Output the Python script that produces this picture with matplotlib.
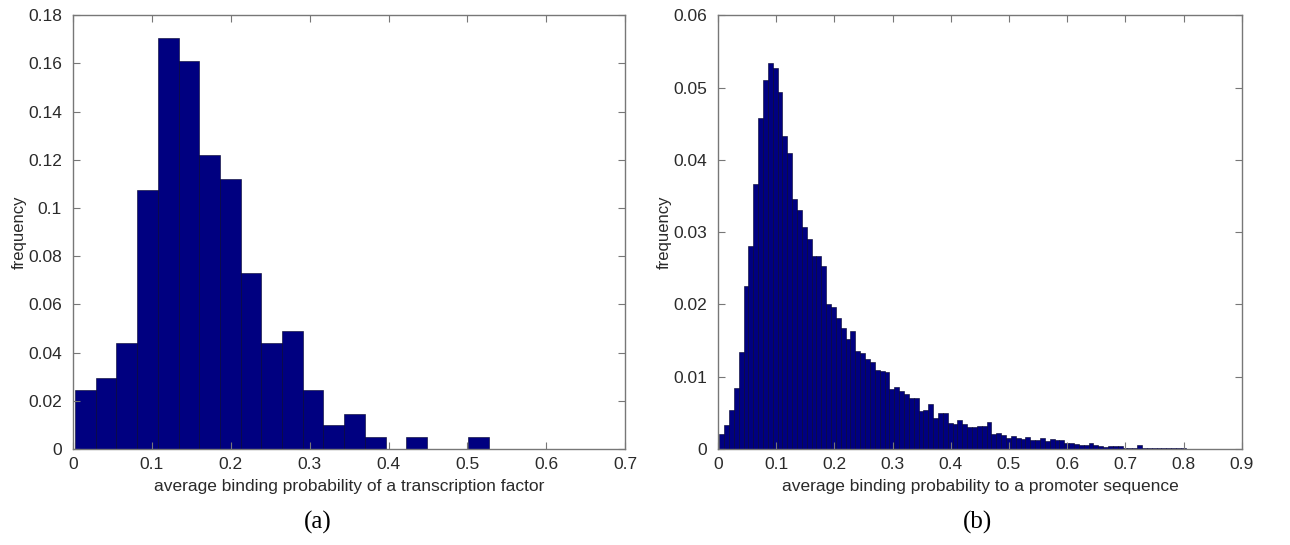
import numpy as np
import matplotlib.pyplot as plt
from matplotlib.ticker import FuncFormatter

# (a) transcription factors: 20 bins
tf_start = 0.0025
tf_width = 0.02625
tf_freq = [0.0244, 0.0293, 0.0439, 0.1073, 0.1707, 0.1610, 0.1220, 0.1122,
           0.0732, 0.0439, 0.0488, 0.0244, 0.0098, 0.0146, 0.0049, 0.0,
           0.0049, 0.0, 0.0, 0.0049]

# (b) promoter sequences
pr_start = 0.0022
pr_width = 0.00835
pr_freq = [0.0021, 0.0033, 0.0054, 0.0085, 0.0134, 0.0225, 0.0281, 0.0367,
           0.0458, 0.0511, 0.0534, 0.0527, 0.0494, 0.0433, 0.0409, 0.0346,
           0.0330, 0.0307, 0.0290, 0.0267, 0.0267, 0.0253, 0.0201, 0.0196,
           0.0181, 0.0168, 0.0152, 0.0163, 0.0136, 0.0133, 0.0125, 0.0120,
           0.0109, 0.0108, 0.0107, 0.0083, 0.0086, 0.0080, 0.0076, 0.0070,
           0.0071, 0.0052, 0.0054, 0.0063, 0.0043, 0.0050, 0.0050, 0.0036,
           0.0035, 0.0040, 0.0034, 0.0031, 0.0031, 0.0032, 0.0032, 0.0038,
           0.0021, 0.0022, 0.0020, 0.0016, 0.0018, 0.0016, 0.0014, 0.0017,
           0.0012, 0.0012, 0.0016, 0.0011, 0.0014, 0.0012, 0.0013, 0.0009,
           0.0008, 0.0007, 0.0006, 0.0006, 0.0008, 0.0006, 0.0004, 0.0003,
           0.0004, 0.0004, 0.0004, 0.0002, 0.0001, 0.0001, 0.0005, 0.0002,
           0.0002, 0.0002, 0.0001, 0.0002, 0.0001, 0.0001, 0.0001, 0.0001]

tf_xticks = np.arange(0, 0.71, 0.1)
tf_yticks = np.arange(0, 0.181, 0.02)
pr_xticks = np.arange(0, 0.91, 0.1)
pr_yticks = np.arange(0, 0.061, 0.01)

plt.rcParams['font.family'] = ['Liberation Sans', 'DejaVu Sans']
BAR = '#000080'
EDGE = '#00002a'
GREY = '#777777'
TXT = '#2a2a2a'
FS = 12.5


def draw_hist(ax, start, width, freq, xticks, yticks, xlabel):
    left = start + width * np.arange(len(freq))
    ax.bar(left, freq, width=width, align='edge', color=BAR,
           edgecolor=EDGE, linewidth=0.4)
    ax.set_xlim(xticks[0], xticks[-1])
    ax.set_ylim(yticks[0], yticks[-1])
    ax.set_xticks(xticks)
    ax.set_yticks(yticks)
    fmt = FuncFormatter(lambda v, p: '{:g}'.format(round(v, 3)))
    ax.xaxis.set_major_formatter(fmt)
    ax.yaxis.set_major_formatter(fmt)
    ax.tick_params(direction='in', top=True, right=True, length=5,
                   width=0.8, color=GREY, labelsize=FS, labelcolor=TXT)
    ax.tick_params(axis='y', pad=8)
    ax.tick_params(axis='x', pad=6)
    for s in ax.spines.values():
        s.set_color(GREY)
        s.set_linewidth(1.0)
    ax.set_xlabel(xlabel, fontsize=FS, color=TXT, labelpad=5)
    ax.set_ylabel('frequency', fontsize=12, color=TXT, labelpad=1)


fig = plt.figure(figsize=(12.9, 5.45), dpi=100)
ax1 = fig.add_axes([0.0566, 0.176, 0.428, 0.796])
ax2 = fig.add_axes([0.5566, 0.176, 0.406, 0.796])

draw_hist(ax1, tf_start, tf_width, tf_freq, tf_xticks, tf_yticks,
          'average binding probability of a transcription factor')
draw_hist(ax2, pr_start, pr_width, pr_freq, pr_xticks, pr_yticks,
          'average binding probability to a promoter sequence')

fig.text(0.2465, 0.041, '(a)', ha='center', va='center',
         family='Liberation Serif', fontsize=18, color='black')
fig.text(0.758, 0.041, '(b)', ha='center', va='center',
         family='Liberation Serif', fontsize=18, color='black')

fig.savefig('out.png', dpi=100)
